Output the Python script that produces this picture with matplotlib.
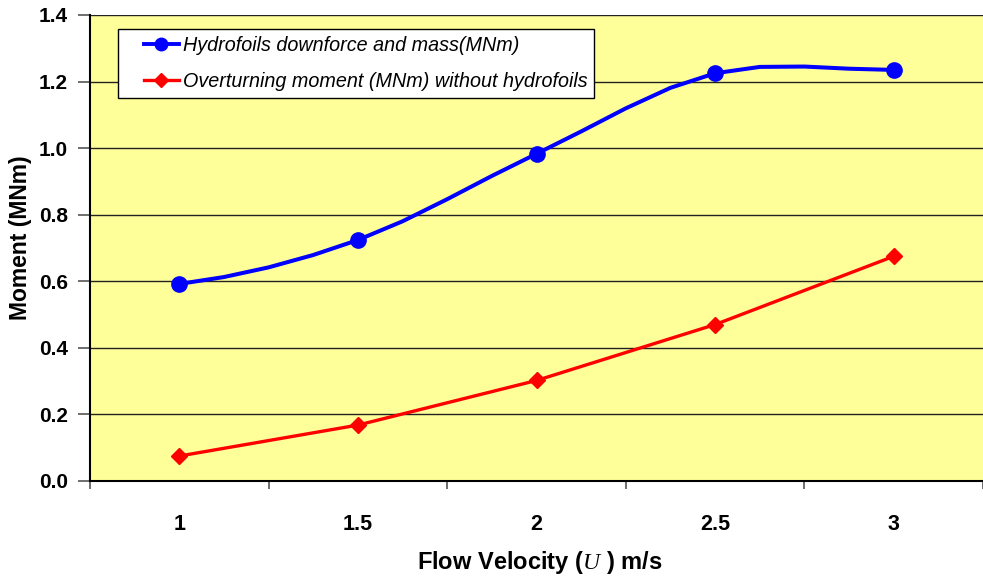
import numpy as np
import matplotlib
matplotlib.use("Agg")
import matplotlib.pyplot as plt
from matplotlib.legend_handler import HandlerLine2D

# Flow velocity categories (m/s) and moments (MNm)
velocity = ["1", "1.5", "2", "2.5", "3"]
hydrofoil_moment = [0.592, 0.724, 0.983, 1.225, 1.235]
overturning_moment = [0.075, 0.168, 0.302, 0.470, 0.675]
y_ticks = [0.0, 0.2, 0.4, 0.6, 0.8, 1.0, 1.2, 1.4]

plt.rcParams["font.family"] = ["Liberation Sans", "DejaVu Sans"]
plt.rcParams["mathtext.fontset"] = "custom"
plt.rcParams["mathtext.it"] = "Liberation Serif:italic"
plt.rcParams["mathtext.rm"] = "Liberation Serif"


def smooth(y, steps=4):
    """Bezier-style smoothing of a category series (spreadsheet 'smoothed line')."""
    y = np.asarray(y, dtype=float)
    n = len(y)
    m = np.zeros(n)
    for i in range(n):
        lo = y[i - 1] if i > 0 else y[i]
        hi = y[i + 1] if i < n - 1 else y[i]
        m[i] = (hi - lo) / 2.0
    xs, ys = [], []
    for i in range(n - 1):
        for t in np.linspace(0, 1, steps + 1)[:-1]:
            h00 = 2 * t**3 - 3 * t**2 + 1
            h10 = t**3 - 2 * t**2 + t
            h01 = -2 * t**3 + 3 * t**2
            h11 = t**3 - t**2
            xs.append(i + t)
            ys.append(h00 * y[i] + h10 * m[i] + h01 * y[i + 1] + h11 * m[i + 1])
    xs.append(n - 1)
    ys.append(y[-1])
    return np.array(xs), np.array(ys)


class InsetHandle(HandlerLine2D):
    """Legend line handle indented from the frame's left edge."""
    def create_artists(self, legend, orig_handle, xdescent, ydescent, width,
                       height, fontsize, trans):
        indent = 14
        return super().create_artists(legend, orig_handle, xdescent - indent,
                                      ydescent, width - indent, height,
                                      fontsize, trans)


fig = plt.figure(figsize=(9.83, 5.79), dpi=100)
ax = fig.add_axes([90 / 983, 1 - 481 / 579, 893 / 983, 466 / 579])
ax.set_facecolor("#FFFF99")

x = np.arange(len(velocity))

for yv in y_ticks[1:]:
    ax.axhline(yv, color="#222222", lw=1.0, zorder=1)

sx, sy = smooth(hydrofoil_moment)
ax.plot(sx, sy, color="#0000FF", lw=2.9, zorder=3, solid_joinstyle="round")
ax.plot(x, hydrofoil_moment, ls="none", marker="o", ms=11, color="#0000FF", zorder=4)
ax.plot(x, overturning_moment, color="#FF0000", lw=2.4, marker="D", ms=8.5,
        zorder=3)

# legend proxies (line + marker)
h1, = ax.plot([], [], color="#0000FF", lw=2.8, marker="o", ms=9)
h2, = ax.plot([], [], color="#FF0000", lw=2.4, marker="D", ms=7.5)
leg = ax.legend([h1, h2],
                ["Hydrofoils downforce and mass(MNm)",
                 "Overturning moment (MNm) without hydrofoils"],
                loc="upper left", bbox_to_anchor=(0.031, 0.97), borderaxespad=0,
                frameon=True, fancybox=False, framealpha=1, edgecolor="black",
                prop={"style": "italic", "size": 14.2}, handlelength=2.75,
                labelspacing=0.85, handletextpad=0.2, borderpad=0.35,
                handler_map={h1: InsetHandle(), h2: InsetHandle()})
leg.get_frame().set_linewidth(1.0)
leg.set_zorder(5)

ax.set_xlim(-0.5, 4.475)
ax.set_ylim(0, 1.4)
ax.set_yticks(y_ticks)
ax.set_yticklabels([f"{v:.1f}" for v in y_ticks], fontsize=15, fontweight="bold")
ax.set_xticks(np.arange(-0.5, 4.6, 1.0))
ax.set_xticklabels([])
ax.set_xticks(x, minor=True)
ax.set_xticklabels(velocity, minor=True, fontsize=15.5, fontweight="bold")
ax.tick_params(axis="x", which="major", length=6, width=1.2, color="#555555")
ax.tick_params(axis="x", which="minor", length=0, pad=24)
ax.tick_params(axis="y", length=9, width=1.2, pad=7, color="#555555")

ax.spines["right"].set_visible(False)
ax.spines["top"].set_visible(False)
for s in ("left", "bottom"):
    ax.spines[s].set_linewidth(1.5)
    ax.spines[s].set_color("black")

fig.text(540 / 983, 1 - 563 / 579, r"Flow Velocity ($U$ ) m/s", ha="center", va="center",
         fontsize=17, fontweight="bold")
fig.text(21 / 983, 1 - 238 / 579, "Moment (MNm)", rotation=90, ha="center", va="center",
         fontsize=16.5, fontweight="bold")

fig.savefig("out.png", dpi=100, facecolor="white")
